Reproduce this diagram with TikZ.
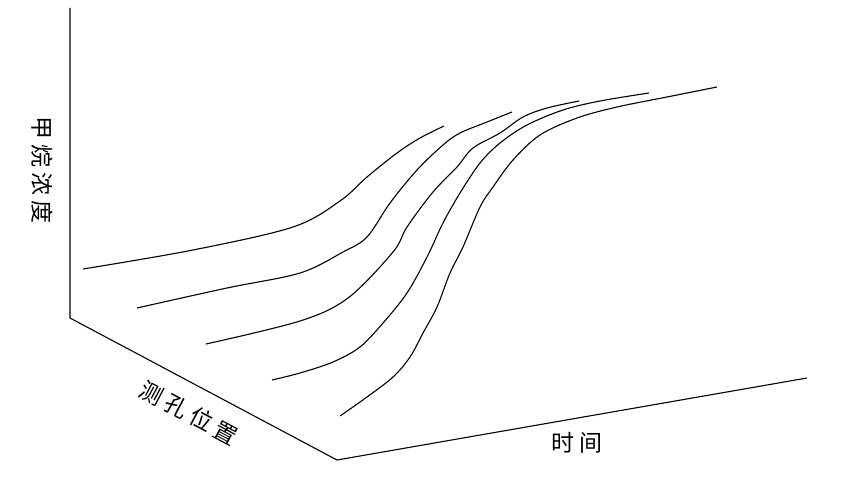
\documentclass[tikz,border=0pt]{standalone}
\usepackage{fontspec}
\newfontfamily\cjk[LetterSpace=22]{Noto Sans CJK SC}
\tikzset{
  axis/.style = {draw=black, line width=1.1pt},% axes
  curve/.style = {draw=black, line width=1.1pt, smooth, tension=0.55},% concentration curves
  axlabel/.style = {inner sep=0pt, font=\cjk\fontsize{23}{23}\selectfont}% axis names
}

\begin{document}
\begin{tikzpicture}[x=1pt,y=-1pt]
\useasboundingbox (0,0) rectangle (846,487);
\coordinate (ctop) at (70,8);
\coordinate (corig) at (70,318);
\coordinate (ccorner) at (337,460);
\coordinate (cend) at (807,378);
\draw [axis] (ctop) -- (corig) -- (ccorner) -- (cend);
% curves, one per hole
\draw [curve] plot coordinates {(83,269) (193,250) (293,227) (340,201) (367,177)
  (397,153) (420,138) (444,126)};
\draw [curve] plot coordinates {(137,308) (227,288) (300,273) (343,252) (367,237)
  (390,203) (417,170) (443,145) (460,133) (487,122) (512,112)};
\draw [curve] plot coordinates {(206,344) (300,321) (348,298) (393,252) (407,227)
  (433,192) (457,167) (473,148) (500,133) (523,117) (547,108) (579,101)};
\draw [curve] plot coordinates {(272,380) (300,373) (333,362) (360,347) (383,323)
  (407,293) (427,257) (443,223) (460,193) (480,163) (500,143) (527,125) (563,110)
  (600,101) (649,93)};
\draw [curve] plot coordinates {(340,416) (367,397) (393,377) (410,357) (423,333)
  (437,307) (450,273) (463,247) (480,207) (493,187) (513,160) (540,135) (577,118)
  (617,107) (667,97) (717,87)};
% axis names
\node [axlabel, rotate=-90] (conc) at (42,170) {甲烷浓度};
\node [axlabel, rotate=-28] (hole) at (189,413) {测孔位置};
\node [axlabel] (time) at (577,443) {时间};
\end{tikzpicture}
\end{document}
